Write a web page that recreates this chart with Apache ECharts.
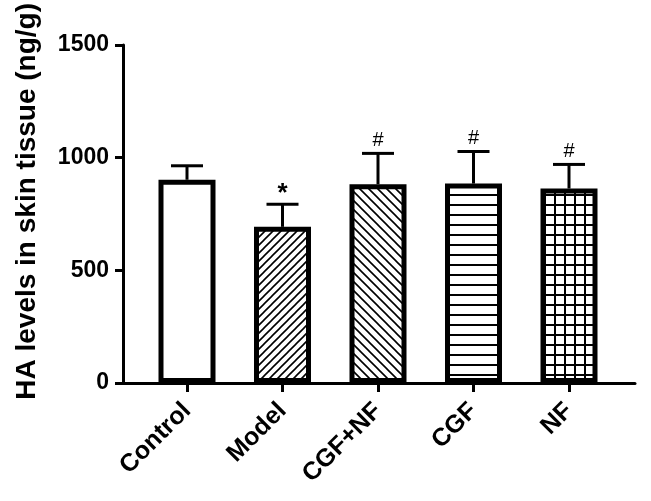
<!DOCTYPE html>
<html>
<head>
<meta charset="utf-8">
<script src="https://cdn.jsdelivr.net/npm/echarts@6/dist/echarts.min.js"></script>
<style>
html,body{margin:0;padding:0;background:#fff;}
#main{width:651px;height:501px;}
</style>
</head>
<body>
<div id="main"></div>
<script>
var categories = ['Control', 'Model', 'CGF+NF', 'CGF', 'NF'];
var means = [902, 693, 882, 885, 863];
var errors = [62, 100, 137, 142, 107];
var marks = ['', '*', '#', '#', '#'];
var yTicks = [0, 500, 1000, 1500];
var yTitle = 'HA levels in skin tissue (ng/g)';

var FONT = '"Liberation Sans", Arial, Helvetica, sans-serif';

function makePattern(kind) {
  var c = document.createElement('canvas');
  var ctx;
  if (kind === 'none') {
    c.width = 4; c.height = 4; ctx = c.getContext('2d');
    ctx.fillStyle = '#fff'; ctx.fillRect(0, 0, 4, 4);
    return c;
  }
  if (kind === 'fwd' || kind === 'back') {
    var s = kind === 'fwd' ? 8 : 9;
    c.width = s; c.height = s; ctx = c.getContext('2d');
    ctx.fillStyle = '#fff'; ctx.fillRect(0, 0, s, s);
    ctx.strokeStyle = '#000'; ctx.lineWidth = 1.6;
    ctx.beginPath();
    if (kind === 'fwd') {
      ctx.moveTo(-1, s + 1); ctx.lineTo(s + 1, -1);
      ctx.moveTo(-1, 1); ctx.lineTo(1, -1);
      ctx.moveTo(s - 1, s + 1); ctx.lineTo(s + 1, s - 1);
    } else {
      ctx.moveTo(-1, -1); ctx.lineTo(s + 1, s + 1);
      ctx.moveTo(s - 1, -1); ctx.lineTo(s + 1, 1);
      ctx.moveTo(-1, s - 1); ctx.lineTo(1, s + 1);
    }
    ctx.stroke();
    return c;
  }
  if (kind === 'horiz') {
    c.width = 10; c.height = 10; ctx = c.getContext('2d');
    ctx.fillStyle = '#fff'; ctx.fillRect(0, 0, 10, 10);
    ctx.fillStyle = '#000'; ctx.fillRect(0, 4, 10, 2);
    return c;
  }
  if (kind === 'grid') {
    c.width = 10; c.height = 10; ctx = c.getContext('2d');
    ctx.fillStyle = '#fff'; ctx.fillRect(0, 0, 10, 10);
    ctx.fillStyle = '#000';
    ctx.fillRect(0, 4, 10, 2);
    ctx.fillRect(4, 0, 2, 10);
    return c;
  }
}
var patterns = ['none', 'fwd', 'back', 'horiz', 'grid'];

var chart = echarts.init(document.getElementById('main'), null, {renderer: 'canvas'});

var barData = means.map(function (v, i) {
  return {
    value: v,
    itemStyle: {
      color: {image: makePattern(patterns[i]), repeat: 'repeat'},
      borderColor: '#000',
      borderWidth: 5
    }
  };
});

var errData = means.map(function (v, i) { return [i, v, v + errors[i], marks[i]]; });

var option = {
  backgroundColor: '#fff',
  animation: false,
  graphic: [
    {
      type: 'text', left: 13, top: 3, rotation: Math.PI / 2,
      style: {
        text: yTitle, fill: '#000',
        font: 'bold 28px ' + FONT
      }
    }
  ],
  grid: [
    {left: 123, right: 16, top: 45, bottom: 118},
    {left: 139.25, right: 34.25, top: 45, bottom: 118}
  ],
  xAxis: [
    {
      type: 'value', gridIndex: 0, min: 0, max: 1,
      axisLine: {show: true, lineStyle: {color: '#000', width: 3}},
      axisTick: {show: false}, axisLabel: {show: false}, splitLine: {show: false}
    },
    {
      type: 'category', gridIndex: 1, data: categories,
      axisLine: {show: false},
      axisTick: {show: true, alignWithLabel: true, length: 9, lineStyle: {color: '#000', width: 3}},
      axisLabel: {
        rotate: 45, margin: 24, color: '#000',
        fontFamily: FONT, fontWeight: 'bold', fontSize: 25, interval: 0
      },
      splitLine: {show: false}
    }
  ],
  yAxis: [
    {
      type: 'value', gridIndex: 0, min: yTicks[0], max: yTicks[yTicks.length - 1], interval: 500,
      axisLine: {show: true, lineStyle: {color: '#000', width: 3}},
      axisTick: {show: true, inside: false, length: 8, lineStyle: {color: '#000', width: 3}},
      axisLabel: {
        margin: 14, color: '#000', fontFamily: FONT, fontWeight: 'bold', fontSize: 23,
        formatter: function (v) { return String(v); }
      },
      splitLine: {show: false}
    },
    {
      type: 'value', gridIndex: 1, min: 0, max: 1500, show: false
    }
  ],
  series: [
    {
      type: 'bar', xAxisIndex: 1, yAxisIndex: 1,
      barWidth: 57, data: barData, z: 2
    },
    {
      type: 'custom', xAxisIndex: 1, yAxisIndex: 1, z: 3,
      data: errData,
      renderItem: function (params, api) {
        var i = api.value(0);
        var base = api.coord([i, api.value(1)]);
        var top = api.coord([i, api.value(2)]);
        var mark = errData[params.dataIndex][3];
        var half = 16;
        var children = [
          {type: 'line', shape: {x1: base[0], y1: base[1], x2: top[0], y2: top[1]},
            style: {stroke: '#000', lineWidth: 3}},
          {type: 'line', shape: {x1: top[0] - half, y1: top[1], x2: top[0] + half, y2: top[1]},
            style: {stroke: '#000', lineWidth: 3}}
        ];
        if (mark) {
          var isStar = mark === '*';
          children.push({
            type: 'text',
            style: {
              text: mark, x: top[0], y: top[1] - (isStar ? 10 : 13),
              align: 'center', verticalAlign: 'middle',
              font: (isStar ? 'bold 26px ' : '20px ') + FONT, fill: '#000'
            }
          });
        }
        return {type: 'group', children: children};
      }
    }
  ]
};
chart.setOption(option);
</script>
</body>
</html>
